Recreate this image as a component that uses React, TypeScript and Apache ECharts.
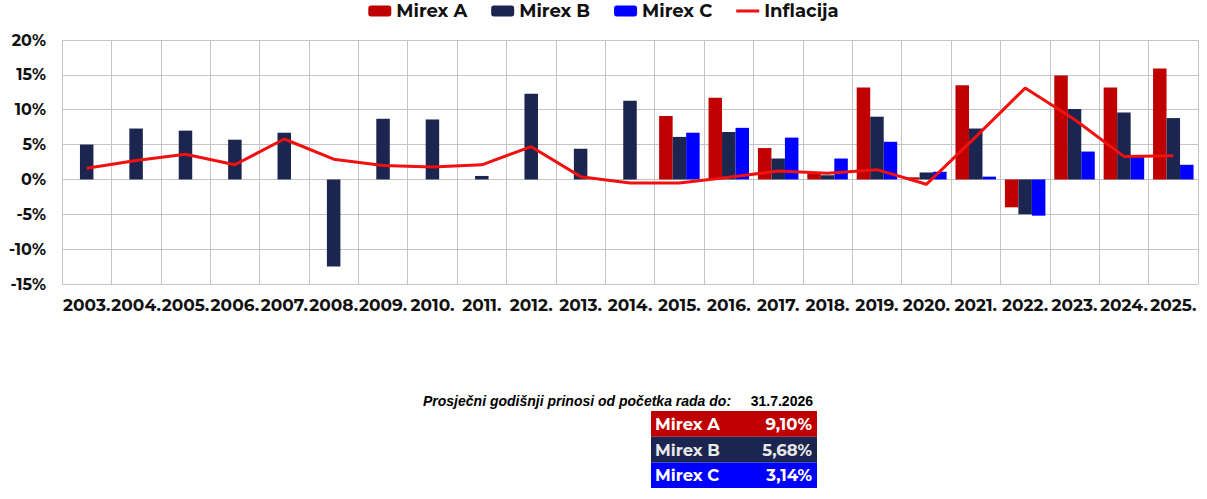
import { useEffect, useRef } from 'react';
import * as echarts from 'echarts';

const years = ['2003.', '2004.', '2005.', '2006.', '2007.', '2008.', '2009.', '2010.', '2011.', '2012.', '2013.', '2014.',
    '2015.', '2016.', '2017.', '2018.', '2019.', '2020.', '2021.', '2022.', '2023.', '2024.', '2025.'];

const mirexA = [null, null, null, null, null, null, null, null, null, null, null, null,
    9.1, 11.7, 4.5, 0.9, 13.2, 0.3, 13.5, -4.0, 14.9, 13.2, 15.9];
const mirexB = [5.0, 7.3, 7.0, 5.7, 6.7, -12.5, 8.7, 8.6, 0.5, 12.3, 4.4, 11.3,
    6.1, 6.8, 3.0, 0.6, 9.0, 1.0, 7.3, -5.0, 10.1, 9.6, 8.8];
const mirexC = [null, null, null, null, null, null, null, null, null, null, null, null,
    6.7, 7.4, 6.0, 3.0, 5.4, 1.1, 0.4, -5.2, 4.0, 3.3, 2.1];
const inflacija = [1.6, 2.7, 3.6, 2.1, 5.8, 2.9, 2.0, 1.8, 2.1, 4.7, 0.4, -0.5,
    -0.5, 0.3, 1.2, 0.9, 1.4, -0.7, 6.1, 13.1, 8.6, 3.3, 3.4];

// tablica prosječnih prinosa
const tableFunds = ['Mirex A', 'Mirex B', 'Mirex C'];
const tableValues = ['9,10%', '5,68%', '3,14%'];
const tableTitle = 'Prosječni godišnji prinosi od početka rada do:';
const tableDate = '31.7.2026';

const colors = ['#C00000', '#1B2550', '#0000FF', '#F01010'];
const tableText = ['#FFFFFF', '#E8E8E8', '#FFFFFF'];
const font = 'Montserrat, "DejaVu Sans", sans-serif';

export default function App() {
    const chartRef = useRef<HTMLDivElement>(null);

    useEffect(() => {
        if (!chartRef.current) return;
        const chart = echarts.init(chartRef.current, undefined, { renderer: 'svg' });

        const rowTop = 411;
        const rowH = 25.7;
        const tableGraphics: any[] = [
            {
                type: 'text', x: 423, y: 401,
                style: { text: tableTitle, font: 'italic bold 14px "Liberation Sans", Arial, sans-serif', fill: '#000', verticalAlign: 'middle' },
            },
            {
                type: 'text', x: 813, y: 401,
                style: { text: tableDate, font: 'bold 14px "Liberation Sans", Arial, sans-serif', fill: '#000', align: 'right', verticalAlign: 'middle' },
            },
        ];
        tableFunds.forEach((name, i) => {
            const y = rowTop + i * rowH;
            tableGraphics.push({
                type: 'rect', shape: { x: 651, y, width: 166, height: rowH }, style: { fill: colors[i] },
            });
            tableGraphics.push({
                type: 'text', x: 655, y: y + rowH / 2,
                style: { text: name, font: `bold 16.5px ${font}`, fill: tableText[i], verticalAlign: 'middle' },
            });
            tableGraphics.push({
                type: 'text', x: 812, y: y + rowH / 2,
                style: { text: tableValues[i], font: `bold 16.5px ${font}`, fill: tableText[i], align: 'right', verticalAlign: 'middle' },
            });
        });

        chart.setOption({
            animation: false,
            color: colors,
            textStyle: { fontFamily: font },
            legend: {
                top: -3,
                left: 'center',
                itemWidth: 23,
                itemHeight: 11,
                itemGap: 24,
                textStyle: { fontSize: 18, fontWeight: 'bold', color: '#111', fontFamily: font },
                data: [
                    'Mirex A', 'Mirex B', 'Mirex C',
                    { name: 'Inflacija', icon: 'path://M0,0 H23 V3 H0 Z', itemStyle: { color: colors[3] } },
                ],
            },
            grid: { left: 62, right: 9, top: 40, bottom: 215, containLabel: false },
            xAxis: {
                type: 'category',
                data: years,
                axisLine: { show: false },
                axisTick: { show: false },
                splitLine: { show: true, lineStyle: { color: '#C4C4C4', width: 1 } },
                axisLabel: { color: '#111', fontWeight: 'bold', fontSize: 17, margin: 12, interval: 0, fontFamily: font },
            },
            yAxis: {
                type: 'value',
                min: -15,
                max: 20,
                interval: 5,
                axisLine: { show: true, lineStyle: { color: '#C4C4C4' } },
                axisTick: { show: false },
                splitLine: { lineStyle: { color: '#C4C4C4', width: 1 } },
                axisLabel: { formatter: '{value}%', color: '#111', fontWeight: 'bold', fontSize: 16, margin: 16, fontFamily: font },
            },
            series: [
                { name: 'Mirex A', type: 'bar', data: mirexA, barGap: '0%', barCategoryGap: '18%' },
                { name: 'Mirex B', type: 'bar', data: mirexB, barGap: '0%', barCategoryGap: '18%' },
                { name: 'Mirex C', type: 'bar', data: mirexC, barGap: '0%', barCategoryGap: '18%' },
                {
                    name: 'Inflacija', type: 'line', data: inflacija, symbol: 'none',
                    lineStyle: { width: 3, color: colors[3] }, itemStyle: { color: colors[3] }, z: 5,
                },
            ],
            graphic: tableGraphics,
        });

        return () => {
            chart.dispose();
        };
    }, []);

    return (
        <div ref={chartRef} style={{ position: 'fixed', left: 0, top: 0, width: 1207, height: 499, background: '#fff' }} />
    );
}
